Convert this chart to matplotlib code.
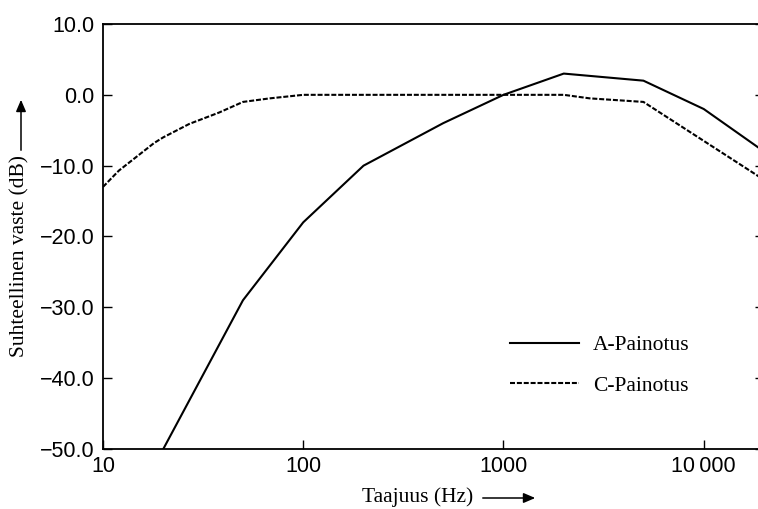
import matplotlib
matplotlib.use("Agg")
import matplotlib.pyplot as plt
from matplotlib.ticker import FixedLocator, FuncFormatter, NullLocator

# Data
a_freq = [20, 50, 100, 200, 500, 1000, 2000, 5000, 10000, 20000]
a_db = [-50, -29, -18, -10, -4, 0, 3, 2, -2, -8]
c_freq = [10, 12, 18, 20, 27, 38, 50, 68, 100, 1000, 2000, 2700, 5000, 10000, 20000]
c_db = [-13, -10.7, -6.8, -6, -4.1, -2.5, -1, -0.5, 0, 0, 0, -0.5, -1, -6.5, -12]
x_ticks = [10, 100, 1000, 10000]
x_tick_labels = ["10", "100", "1000", "10\u2009000"]
y_ticks = [10, 0, -10, -20, -30, -40, -50]

W, H = 758, 509
fig = plt.figure(figsize=(W / 100, H / 100), dpi=100)
ax = fig.add_axes([103 / W, 1 - 449 / H, (764 - 103) / W, (449 - 24) / H])

ax.plot(a_freq, a_db, color="black", lw=1.5, label="A-Painotus")
ax.plot(c_freq, c_db, color="black", lw=1.5, linestyle=(0, (2.4, 0.9)), label="C-Painotus")

ax.set_xscale("log")
ax.set_xlim(10, 20000)
ax.set_ylim(-50, 10)
ax.xaxis.set_major_locator(FixedLocator(x_ticks))
ax.xaxis.set_minor_locator(NullLocator())
ax.xaxis.set_major_formatter(FuncFormatter(lambda v, p: x_tick_labels[x_ticks.index(int(round(v)))] if int(round(v)) in x_ticks else ""))
ax.yaxis.set_major_locator(FixedLocator(y_ticks))
ax.yaxis.set_major_formatter(FuncFormatter(lambda v, p: f"{v:.1f}".replace("-", "\u2212")))

for s in ax.spines.values():
    s.set_linewidth(1.3)
ax.tick_params(axis="both", direction="in", length=6.5, width=1.0, labelsize=15.5)
ax.tick_params(axis="y", right=True, pad=6)
ax.tick_params(axis="x", pad=5)
for lab in ax.get_xticklabels() + ax.get_yticklabels():
    lab.set_fontfamily(["Liberation Sans", "DejaVu Sans"])

leg = ax.legend(loc="upper left", bbox_to_anchor=((491 - 103) / (764 - 103), 1 - (316 - 24) / 425),
                frameon=False, prop={"family": "Liberation Serif", "size": 15.5},
                handlelength=3.2, handletextpad=0.65, labelspacing=0.95)

serif = {"family": "Liberation Serif", "size": 15.5}
fig.text(418 / W, 1 - 497 / H, "Taajuus (Hz)", ha="center", va="center", **serif)
fig.add_artist(matplotlib.patches.FancyArrowPatch((480 / W, 1 - 498 / H), (538 / W, 1 - 498 / H),
               transform=fig.transFigure, arrowstyle="-|>,head_length=7,head_width=3",
               color="black", lw=1.1, mutation_scale=1))
fig.text(20 / W, 1 - 256 / H, "Suhteellinen vaste (dB)", ha="center", va="center", rotation=90, **serif)
fig.add_artist(matplotlib.patches.FancyArrowPatch((21 / W, 1 - 153 / H), (21 / W, 1 - 97 / H),
               transform=fig.transFigure, arrowstyle="-|>,head_length=7,head_width=3",
               color="black", lw=1.1, mutation_scale=1))

fig.savefig("out.png", dpi=100)
